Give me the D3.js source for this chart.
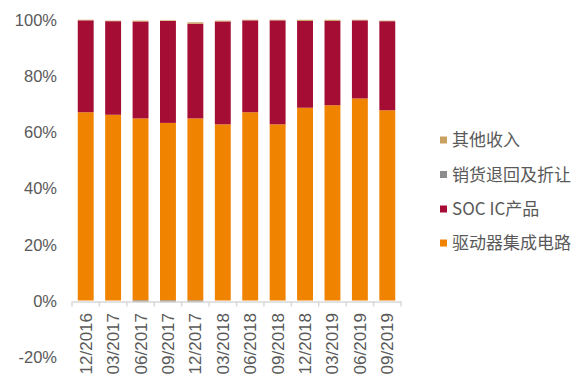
<!DOCTYPE html>
<html><head><meta charset="utf-8">
<script src="https://cdn.jsdelivr.net/npm/d3@7"></script>
<style>body{margin:0;background:#fff}svg{display:block}</style>
</head><body>
<svg id="c" width="575" height="376"></svg>
<script>
const categories = ['12/2016','03/2017','06/2017','09/2017','12/2017','03/2018','06/2018','09/2018','12/2018','03/2019','06/2019','09/2019'];
const driverIC = [67.0, 66.1, 64.8, 63.2, 64.8, 62.7, 67.0, 62.7, 68.6, 69.5, 71.9, 67.7];
const socIC    = [32.7, 33.3, 34.5, 36.3, 33.7, 36.6, 32.7, 37.0, 30.9, 30.0, 27.8, 31.7];
const returnsDisc = [0, 0, -0.6, -0.6, -0.6, 0, 0, 0, 0, 0, 0, 0];
const otherIncome = [0.2, 0.2, 0.3, 0.2, 0.5, 0.3, 0.2, 0.2, 0.4, 0.4, 0.2, 0.2];
const yTicks = [-20, 0, 20, 40, 60, 80, 100];
const seriesNames = ['驱动器集成电路', 'SOC IC产品', '销货退回及折让', '其他收入'];
const seriesColors = ['#F08300', '#A50D35', '#8C8C8C', '#C9A261'];

const keys = ['driver','soc','returns','other'];
const rows = categories.map((c,i)=>({cat:c, driver:driverIC[i], soc:socIC[i], returns:returnsDisc[i], other:otherIncome[i]}));
const stacked = d3.stack().keys(keys).offset(d3.stackOffsetDiverging)(rows);

const svg = d3.select('#c');
const x = d3.scaleBand().domain(categories).range([72, 401]).paddingInner(0.42).paddingOuter(0.21);
const y = d3.scaleLinear().domain([-20, 100]).range([356.7, 19.5]);
const font = '"Liberation Sans", Arial, "Noto Sans CJK SC", sans-serif';

// bars
svg.append('g').selectAll('g').data(stacked).join('g')
  .attr('fill', (d,i)=>seriesColors[i])
  .selectAll('rect').data(d=>d).join('rect')
  .attr('x', d=>x(d.data.cat))
  .attr('width', x.bandwidth())
  .attr('y', d=>y(Math.max(d[0],d[1])))
  .attr('height', d=>Math.abs(y(d[0])-y(d[1])));

// x axis
const xa = svg.append('g').attr('transform', `translate(0,${y(0)+1})`)
  .call(d3.axisBottom(x).tickSize(0).tickFormat(''));
xa.select('.domain').attr('stroke', '#d9d9d9').attr('stroke-width', 1.5);
const step = x.step();
const edges = d3.range(categories.length + 1).map(i => 72 + i * step);
xa.selectAll('.edge').data(edges).join('line').attr('class','edge')
  .attr('x1', d=>d).attr('x2', d=>d).attr('y1', 0).attr('y2', 5)
  .attr('stroke', '#d9d9d9').attr('stroke-width', 1.5);

// x labels rotated
svg.append('g').selectAll('text').data(categories).join('text')
  .attr('transform', d=>`translate(${x(d)+x.bandwidth()/2+6},313) rotate(-90)`)
  .attr('text-anchor', 'end')
  .attr('font-family', font).attr('font-size', 17).attr('fill', '#595959')
  .text(d=>d);

// y axis labels
const ya = svg.append('g').attr('transform', 'translate(57,0)')
  .call(d3.axisLeft(y).tickValues(yTicks).tickSize(0).tickPadding(0).tickFormat(d=>d+'%'));
ya.select('.domain').remove();
ya.selectAll('text').attr('font-family', font).attr('font-size', 16.5).attr('fill', '#595959').attr('dy', '0.35em');

// legend
const legendOrder = [3, 2, 1, 0];
const legendY = [140, 174.5, 209, 243];
const lg = svg.append('g').selectAll('g').data(legendOrder).join('g')
  .attr('transform', (d,i)=>`translate(440,${legendY[i]})`);
lg.append('rect').attr('x', 0).attr('y', -3.5).attr('width', 7).attr('height', 7).attr('fill', d=>seriesColors[d]);
lg.append('text').attr('x', 12).attr('dy', '0.36em')
  .attr('font-family', '"Noto Sans CJK SC", "Liberation Sans", sans-serif').attr('font-size', 17).attr('fill', '#595959')
  .text(d=>seriesNames[d]);
</script>
</body></html>
